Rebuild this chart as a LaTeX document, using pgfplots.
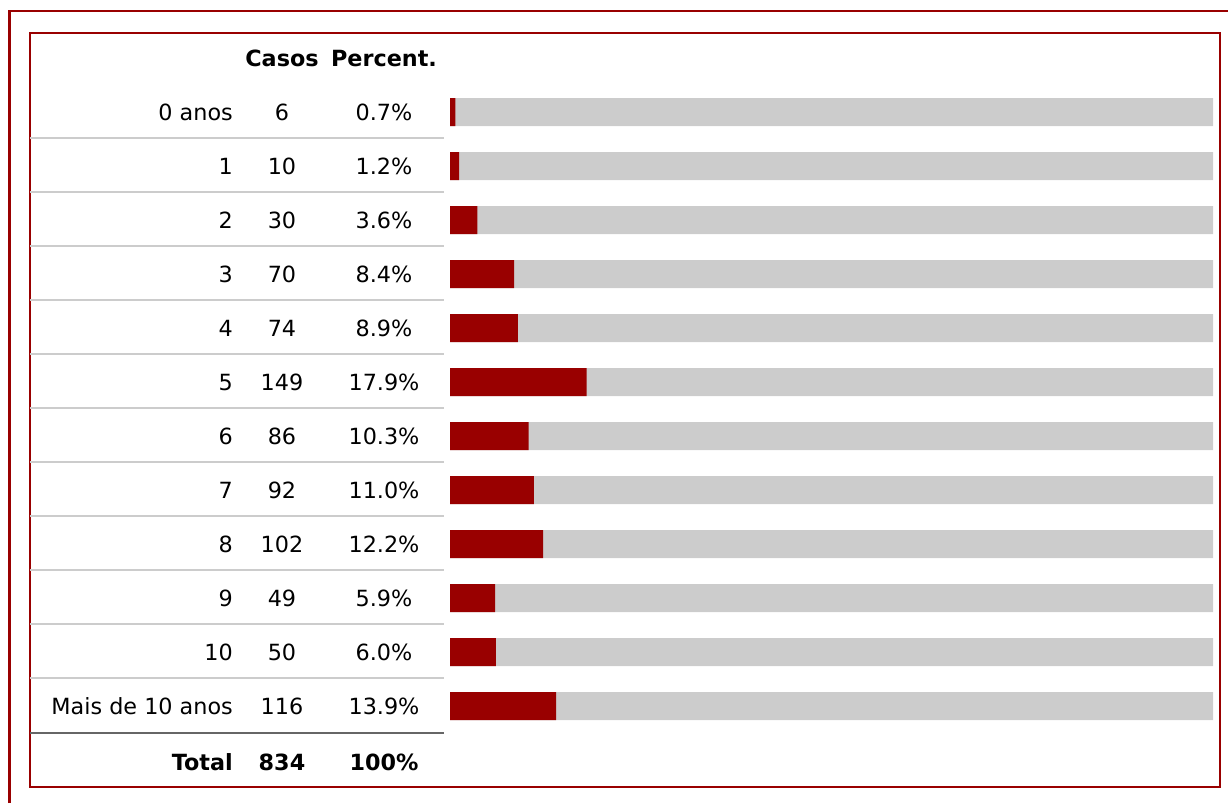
\documentclass[border=0pt]{standalone}
\usepackage{pgfplots}
\pgfplotsset{compat=1.18}
\usepackage{pgfplotstable}
\usepackage{fontspec}
\setmainfont{DejaVu Sans}
\definecolor{barred}{HTML}{990000}
\definecolor{bargray}{HTML}{CCCCCC}
\definecolor{sepgray}{HTML}{CCCCCC}
\definecolor{darksep}{HTML}{666666}

\pgfplotstableread[col sep=comma]{
y,label,casos,pct,val
0,0 anos,6,0.7\%,0.7
1,1,10,1.2\%,1.2
2,2,30,3.6\%,3.6
3,3,70,8.4\%,8.4
4,4,74,8.9\%,8.9
5,5,149,17.9\%,17.9
6,6,86,10.3\%,10.3
7,7,92,11.0\%,11.0
8,8,102,12.2\%,12.2
9,9,49,5.9\%,5.9
10,10,50,6.0\%,6.0
11,Mais de 10 anos,116,13.9\%,13.9
}\data

\pgfplotstableread[col sep=comma]{
y,label,casos,pct
-1,,Casos,Percent.
12.04,Total,834,100\%
}\headtotal

\begin{document}
\begin{tikzpicture}[font=\fontsize{22.3}{26}\selectfont]
\begin{axis}[
  width=1228pt, height=803pt, scale only axis,
  xmin=-58.977, xmax=101.966,
  ymin=-2.0741, ymax=12.7963,
  y dir=reverse,
  axis lines=none, ticks=none,
  every node near coord/.append style={inner sep=0pt, yshift=-8.5pt},
]
% frames
\draw[barred, line width=2.5pt] (axis cs:-57.73,12.7963) -- (axis cs:-57.73,-1.87);
\draw[barred, line width=2.5pt] (axis cs:-57.9,-1.87) -- (axis cs:101.966,-1.87);
\draw[barred, line width=2pt] (axis cs:-55.05,-1.463) rectangle (axis cs:100.92,12.5);
% separators
\pgfplotsinvokeforeach{0,...,10}{
  \draw[sepgray, line width=2pt] (axis cs:-55.05,#1+0.49) -- (axis cs:-0.79,#1+0.49);
}
\draw[darksep, line width=2pt] (axis cs:-55.05,11.5) -- (axis cs:-0.79,11.5);
% bars
\addplot[xbar, bar width=28pt, bar shift=0pt, fill=bargray, draw=none]
  table[x expr=100, y=y] {\data};
\addplot[xbar, bar width=28pt, bar shift=0pt, fill=barred, draw=none]
  table[x=val, y=y] {\data};
% text columns
\addplot[draw=none, mark=none, nodes near coords, point meta=explicit symbolic,
  every node near coord/.append style={anchor=base east}]
  table[x expr=-28.44, y=y, meta=label] {\data};
\addplot[draw=none, mark=none, nodes near coords, point meta=explicit symbolic,
  every node near coord/.append style={anchor=base}]
  table[x expr=-22.02, y=y, meta=casos] {\data};
\addplot[draw=none, mark=none, nodes near coords, point meta=explicit symbolic,
  every node near coord/.append style={anchor=base}]
  table[x expr=-8.65, y=y, meta=pct] {\data};
% header and total (bold)
\addplot[draw=none, mark=none, nodes near coords, point meta=explicit symbolic,
  every node near coord/.append style={anchor=base east, font=\fontsize{22.3}{26}\selectfont\bfseries}]
  table[x expr=-28.44, y=y, meta=label] {\headtotal};
\addplot[draw=none, mark=none, nodes near coords, point meta=explicit symbolic,
  every node near coord/.append style={anchor=base, font=\fontsize{22.3}{26}\selectfont\bfseries}]
  table[x expr=-22.02, y=y, meta=casos] {\headtotal};
\addplot[draw=none, mark=none, nodes near coords, point meta=explicit symbolic,
  every node near coord/.append style={anchor=base, font=\fontsize{22.3}{26}\selectfont\bfseries}]
  table[x expr=-8.65, y=y, meta=pct] {\headtotal};
\end{axis}
\pgfresetboundingbox
\useasboundingbox (current axis.south west) rectangle (current axis.north east);
\end{tikzpicture}
\end{document}
